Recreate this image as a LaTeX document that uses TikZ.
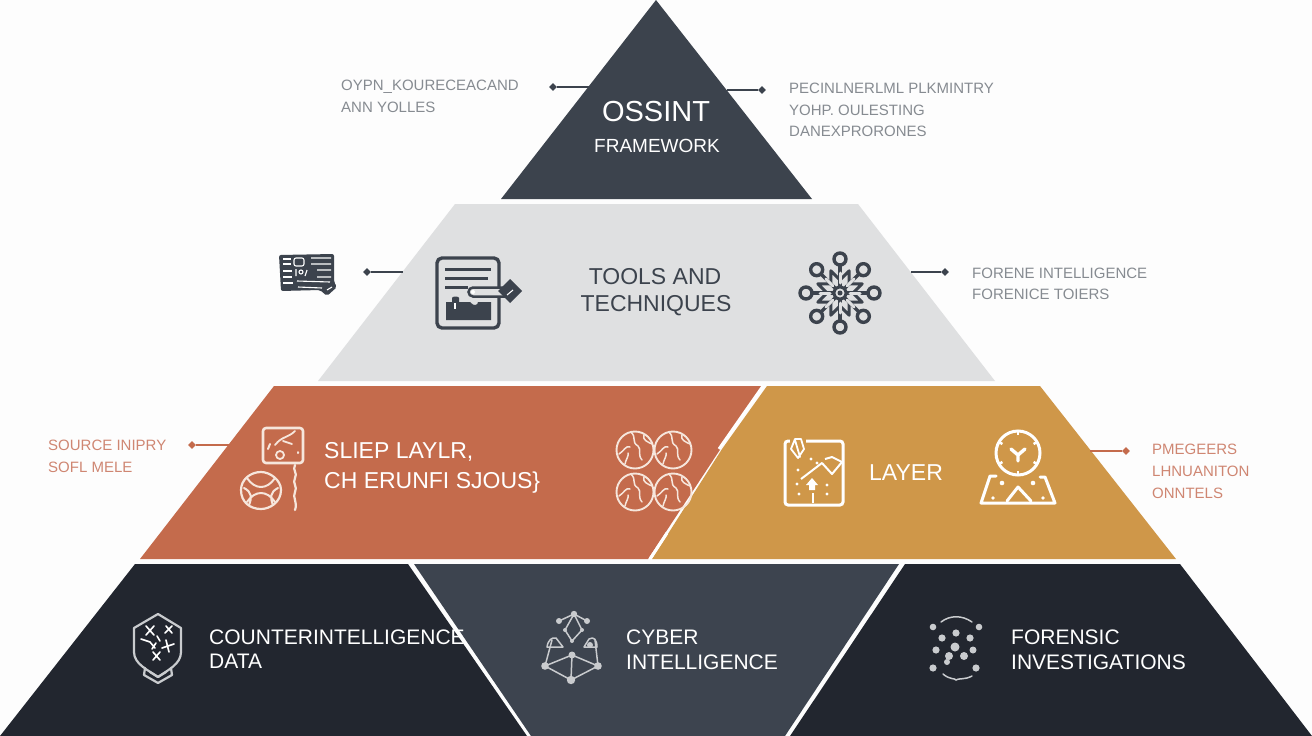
\documentclass[tikz,border=0pt]{standalone}
\usepackage{fontspec}
\setmainfont{Liberation Sans}
\usetikzlibrary{shapes.geometric}
\definecolor{bgc}{HTML}{FDFDFD}
\definecolor{slate}{HTML}{3C434D}
\definecolor{pale}{HTML}{DFE0E1}
\definecolor{rust}{HTML}{C46B4C}
\definecolor{gold}{HTML}{CF9749}
\definecolor{ink}{HTML}{22262F}
\definecolor{midc}{HTML}{3D444F}
\definecolor{cap}{HTML}{868B91}
\definecolor{capr}{HTML}{CF8672}
\definecolor{cream}{HTML}{F6E6DC}
\definecolor{iconw}{HTML}{C9CBCE}
\tikzset{
  x=1pt,y=-1pt,
  lbl/.style={anchor=west,inner sep=0pt,text=white,font=\fontsize{21}{24}\selectfont},
  cnt/.style={anchor=center,inner sep=0pt},
  sidetxt/.style={anchor=west,inner sep=0pt,text=cap,font=\fontsize{15}{18}\selectfont},
  sidetxtr/.style={anchor=west,inner sep=0pt,text=capr,font=\fontsize{15}{18}\selectfont},
  dot/.style={diamond,fill=#1,inner sep=0pt,minimum size=8pt},
  wire/.style={line width=1.5pt,draw=#1},
  darkic/.style={draw=slate,line width=3.4pt,line cap=round,line join=round},
  creamic/.style={draw=cream,line width=2.6pt,line cap=round,line join=round},
  greyic/.style={draw=iconw,line width=1.5pt,line cap=round,line join=round},
}
\begin{document}
\begin{tikzpicture}
\useasboundingbox (0,0) rectangle (1312,736);
\fill[bgc] (0,0) rectangle (1312,736);
% layers
\fill[slate] (656,0) -- (812,199) -- (501,199) -- cycle;
\fill[pale] (455,204) -- (858,204) -- (995,381) -- (318,381) -- cycle;
\fill[rust] (274,386) -- (762,386) -- (648,559) -- (140,559) -- cycle;
\fill[gold] (767,386) -- (1040,386) -- (1176,559) -- (652,559) -- (722,449) -- cycle;
\draw[white,line width=3pt] (763,386) -- (719,449);
\draw[white,line width=3pt] (650,559) -- (667,533);
\fill[ink] (135,564) -- (408,564) -- (527,736) -- (0,736) -- cycle;
\fill[midc] (414,564) -- (899,564) -- (785,736) -- (531,736) -- cycle;
\fill[ink] (905,564) -- (1180,564) -- (1312,736) -- (790,736) -- cycle;
% main texts
\node[cnt,text=white,font=\fontsize{29}{32}\selectfont] (t1) at (656,112) {OSSINT};
\node[cnt,text=white,font=\fontsize{19}{22}\selectfont] (t2) at (657,146) {FRAMEWORK};
\node[cnt,text=slate,font=\fontsize{23}{26}\selectfont] (t3) at (655,277) {TOOLS AND};
\node[cnt,text=slate,font=\fontsize{23}{26}\selectfont] (t4) at (656,306) {TECHNIQUES};
\node[lbl,font=\fontsize{23}{26}\selectfont] (t5) at (324,452) {SLIEP LAYLR,};
\node[lbl,font=\fontsize{23}{26}\selectfont] (t6) at (324,483) {CH ERUNFI SJOUS\}};
\node[lbl,font=\fontsize{23}{26}\selectfont] (t7) at (869,473) {LAYER};
\node[lbl] (t8) at (209,637) {COUNTERINTELLIGENCE};
\node[lbl] (t9) at (209,661) {DATA};
\node[lbl] (t10) at (626,637) {CYBER};
\node[lbl] (t11) at (626,662) {INTELLIGENCE};
\node[lbl] (t12) at (1011,637) {FORENSIC};
\node[lbl] (t13) at (1011,662) {INVESTIGATIONS};
% side captions
\node[sidetxt] (s1) at (341,87) {OYPN\_KOURECEACAND};
\node[sidetxt] (s2) at (341,107) {ANN YOLLES};
\node[sidetxt] (s3) at (789,88) {PECINLNERLML PLKMINTRY};
\node[sidetxt] (s4) at (789,110) {YOHP. OULESTING};
\node[sidetxt] (s5) at (789,131) {DANEXPRORONES};
\node[sidetxt] (s6) at (972,273) {FORENE INTELLIGENCE};
\node[sidetxt] (s7) at (972,294) {FORENICE TOIERS};
\node[sidetxtr] (s8) at (48,445) {SOURCE INIPRY};
\node[sidetxtr] (s9) at (48,467) {SOFL MELE};
\node[sidetxtr] (s10) at (1152,449) {PMEGEERS};
\node[sidetxtr] (s11) at (1152,471) {LHNUANITON};
\node[sidetxtr] (s12) at (1152,493) {ONNTELS};
% connectors
\node[dot=slate] (d1) at (553,87) {};
\coordinate (e1) at (590,87);
\draw[wire=slate] (d1) -- (e1);
\node[dot=slate] (d2) at (762,90) {};
\coordinate (e2) at (727,90);
\draw[wire=slate] (d2) -- (e2);
\node[dot=slate] (d3) at (367,272) {};
\coordinate (e3) at (403,272);
\draw[wire=slate] (d3) -- (e3);
\node[dot=slate] (d4) at (945,272) {};
\coordinate (e4) at (911,272);
\draw[wire=slate] (d4) -- (e4);
\node[dot=rust] (d5) at (192,445) {};
\coordinate (e5) at (232,445);
\draw[wire=rust] (d5) -- (e5);
\node[dot=rust] (d6) at (1126,451) {};
\coordinate (e6) at (1090,451);
\draw[wire=rust] (d6) -- (e6);
% ID card
\fill[slate,rounded corners=2pt] (279,255) -- (334,254) -- (334,282) -- (337,287) -- (327,296) -- (320,290) -- (281,291) -- cycle;
\begin{scope}[white,line width=1.1pt]
\draw (283,259) -- (291,259) (283,264) -- (291,264) (283,271) -- (292,271) (283,277) -- (292,277) (283,283) -- (293,283);
\draw (311,258) -- (331,258) (311,264) -- (331,264) (317,270) -- (331,270) (317,277) -- (331,277) (297,281) -- (330,282) (298,287) -- (322,288);
\draw[rounded corners=2pt] (294,258) rectangle (304,266);
\draw (296,269) -- (296,276) (301,272) circle (2pt) (307,270) -- (305,276);
\draw (327,290) -- (332,287);
\end{scope}
% document with key
\draw[darkic,rounded corners=5pt] (437,258) rectangle (499,328);
\draw[darkic,line width=3pt,line cap=butt] (445,269) -- (491,269) (445,278) -- (488,278) (445,287) -- (468,287);
\fill[slate] (446,302) -- (452,302) -- (452,298) .. controls (452,296) and (459,296) .. (459,298) -- (459,302) -- (470,302) .. controls (474,307) and (478,305) .. (478,302) -- (491,302) -- (491,320) -- (446,320) -- cycle;
\fill[white] (454,303) rectangle (456,309);
\draw[pale,line width=9pt,line cap=round] (471,292) -- (500,292);
\draw[slate,line width=2.5pt] (506,287.5) -- (473,287.5) arc (90:270:4.5pt) -- (506,296.5);
\fill[white] (473,292) circle (2pt);
\fill[slate] (510,279) -- (522,291) -- (510,303) -- (498,291) -- cycle;
\draw[white,line width=1.1pt] (507,295) -- (513,290);
% snowflake
\begin{scope}[shift={(840,293)}]
\foreach \a/\r in {0/34,45/33,90/34,135/33,180/34,225/33,270/34,315/33}{
  \draw[darkic] (0,0) -- (\a:\r);
}
\foreach \a in {22.5,67.5,112.5,157.5,202.5,247.5,292.5,337.5}{
  \draw[darkic,line width=3pt] (\a-22:13) -- (\a:24) -- (\a+22:13);
}
\foreach \a in {0,45,...,315}{
  \draw[pale,line width=3pt,line cap=round] (\a:10) -- (\a:20);
}
\foreach \a/\r in {0/34,45/33,90/34,135/33,180/34,225/33,270/34,315/33}{
  \draw[darkic,fill=pale] (\a:\r) circle (6pt);
}
\draw[darkic,fill=pale,line width=3pt] (0,0) circle (6pt);
\fill[slate] (0,0) circle (2.5pt);
\end{scope}
% rust panel icon 1
\draw[creamic,rounded corners=3pt] (263,428) rectangle (303,463);
\draw[creamic,line width=1.8pt] (280,455) circle (4pt) (275,445) .. controls (282,436) and (288,438) .. (295,431) (283,441) -- (292,444);
\draw[creamic,line width=2pt] (268,449) -- (270,444) (298,452) -- (298,453);
\draw[creamic,line width=2.2pt] (295,465) .. controls (292,470) and (298,473) .. (295,478) .. controls (292,483) and (298,487) .. (295,492) .. controls (292,497) and (298,502) .. (295,510);
\draw[creamic,line width=2.2pt] (261,472) .. controls (270,472) and (281,480) .. (281,490) .. controls (281,502) and (270,509) .. (261,509) .. controls (250,509) and (241,502) .. (241,490) .. controls (241,480) and (250,472) .. (261,472) -- cycle;
\draw[creamic,line width=2pt] (247,478) .. controls (255,490) and (267,490) .. (275,478) (247,502) .. controls (255,490) and (267,490) .. (275,502) (244,488) .. controls (252,492) and (252,498) .. (249,505) (278,488) .. controls (270,492) and (270,498) .. (273,505);
% globes
\foreach \cx/\cy in {635/450,673/450,635/492,673/492}{
  \begin{scope}[shift={(\cx,\cy)}]
  \draw[creamic,line width=1.9pt] (0,0) circle (18.5pt);
  \draw[creamic,line width=1.5pt] (-4,-18) .. controls (2,-12) and (-4,-8) .. (3,-4) .. controls (7,0) and (2,4) .. (7,10) (-16,4) .. controls (-11,1) and (-9,-5) .. (-5,-3) (9,-15) .. controls (7,-10) and (13,-8) .. (17,-6) (-10,14) .. controls (-9,9) and (-6,6) .. (-7,3);
  \end{scope}
}
% map icon
\draw[white,line width=3pt,rounded corners=3pt] (785,441) rectangle (843,505);
\fill[gold] (790,437) rectangle (806,457);
\draw[white,line width=1.8pt,line cap=round,line join=round] (795,439) -- (791,449) -- (798,458) -- (804,449) -- (801,439) -- cycle (795,440) -- (800,457);
\draw[white,line width=2pt,line join=round] (801,479) -- (822,463) -- (832,474) -- (842,462) -- (832,457) -- (825,459);
\fill[white] (812,478) -- (818,485) -- (815,485) -- (815,490) -- (809,490) -- (809,485) -- (806,485) -- cycle;
\foreach \px/\py in {798/470,797/484,799/494,827/485,827/494,811/459,817/463}{ \fill[white] (\px,\py) circle (1.6pt); }
\draw[white,line width=1.5pt] (813,493) -- (813,503);
% clock pin icon
\draw[white,line width=3pt] (1018,453) circle (22pt);
\foreach \a in {0,60,...,300}{ \draw[white,line width=2.5pt] (1018,453) ++(\a+30:22) -- ++(\a+30:-4); }
\draw[white,line width=3.4pt,line cap=round] (1018,455) -- (1018,461) (1018,455) -- (1011,449) (1018,455) -- (1025,449);
\draw[white,line width=3pt,line join=round,line cap=round] (996,476) -- (990,476) -- (981,503) -- (1055,503) -- (1045,477) -- (1040,477);
\draw[white,line width=3pt,line join=round,line cap=round] (1007,501) -- (1018,487) -- (1031,501);
\fill[white] (1002,483) circle (2.3pt) (1033,483) circle (2.3pt) (993,498) circle (1.8pt) (1043,498) circle (1.8pt);
% shield
\begin{scope}[greyic,line width=2.2pt]
\draw (134,628) -- (158,614) -- (181,628) -- (181,652) .. controls (181,664) and (168,670) .. (158,677) .. controls (148,670) and (134,664) .. (134,652) -- cycle;
\draw (145,668) -- (144,675) -- (158,683) -- (172,675) -- (171,668);
\draw (150,672) -- (158,677) -- (166,672);
\end{scope}
\begin{scope}[white,line width=1.6pt,line cap=round]
\draw (146,626) -- (154,635) (154,626) -- (146,635) (166,626) -- (172,633) (172,626) -- (165,633);
\draw (157,636) -- (160,641);
\draw (141,639) -- (150,642) -- (155,648) (156,643) -- (152,649);
\draw (166,640) -- (169,652) (162,648) -- (174,644);
\draw (153,652) -- (160,660) (160,652) -- (153,660);
\end{scope}
% network
\begin{scope}[greyic]
\coordinate (n1) at (574,614);
\coordinate (n2) at (559,621);
\coordinate (n3) at (587,621);
\coordinate (n4) at (565,630);
\coordinate (n5) at (582,630);
\coordinate (n6) at (572,641);
\coordinate (n7) at (552,640);
\coordinate (n8) at (595,640);
\coordinate (n9) at (572,655);
\coordinate (n10) at (545,666);
\coordinate (n11) at (598,666);
\coordinate (n12) at (571,680);
\draw (n2) -- (n1) -- (n3) (n1) -- (n4) -- (n6) -- (n5) -- (n1);
\draw (n7) -- (n10) -- (n9) -- (n11) -- (n12) -- (n10) (n9) -- (n12);
\draw (547,647) .. controls (548,640) and (552,637) .. (556,638) -- (563,647) -- cycle;
\draw (584,647) -- (589,639) .. controls (594,636) and (597,640) .. (597,647) -- cycle;
\draw (n8) -- (n11);
\fill[iconw] (590,645) circle (3pt);
\foreach \n/\s in {n1/3.2,n2/3,n3/3,n4/2,n5/2,n6/2,n9/3.5,n10/3.8,n11/3.8,n12/4.2}{ \fill[iconw] (\n) circle (\s pt); }
\end{scope}
% dots icon
\begin{scope}[iconw]
\foreach \px/\py/\s in {933/627/3.3,979/627/3.3,942/638/3.6,956/633/3.6,970/638/3.6,936/650/3.6,973/650/3.5,933/668/3.6,976/668/3.6,955/647/4.5,949/656/4,964/656/4,947/662/3}{ \fill (\px,\py) circle (\s pt); }
\draw[line width=1.5pt,line cap=round] (941,622) .. controls (950,615) and (962,615) .. (972,622);
\draw[line width=1.5pt,line cap=round] (943,674) .. controls (950,680) and (955,678) .. (956,680) .. controls (958,678) and (965,680) .. (972,676);
\end{scope}
\end{tikzpicture}
\end{document}
